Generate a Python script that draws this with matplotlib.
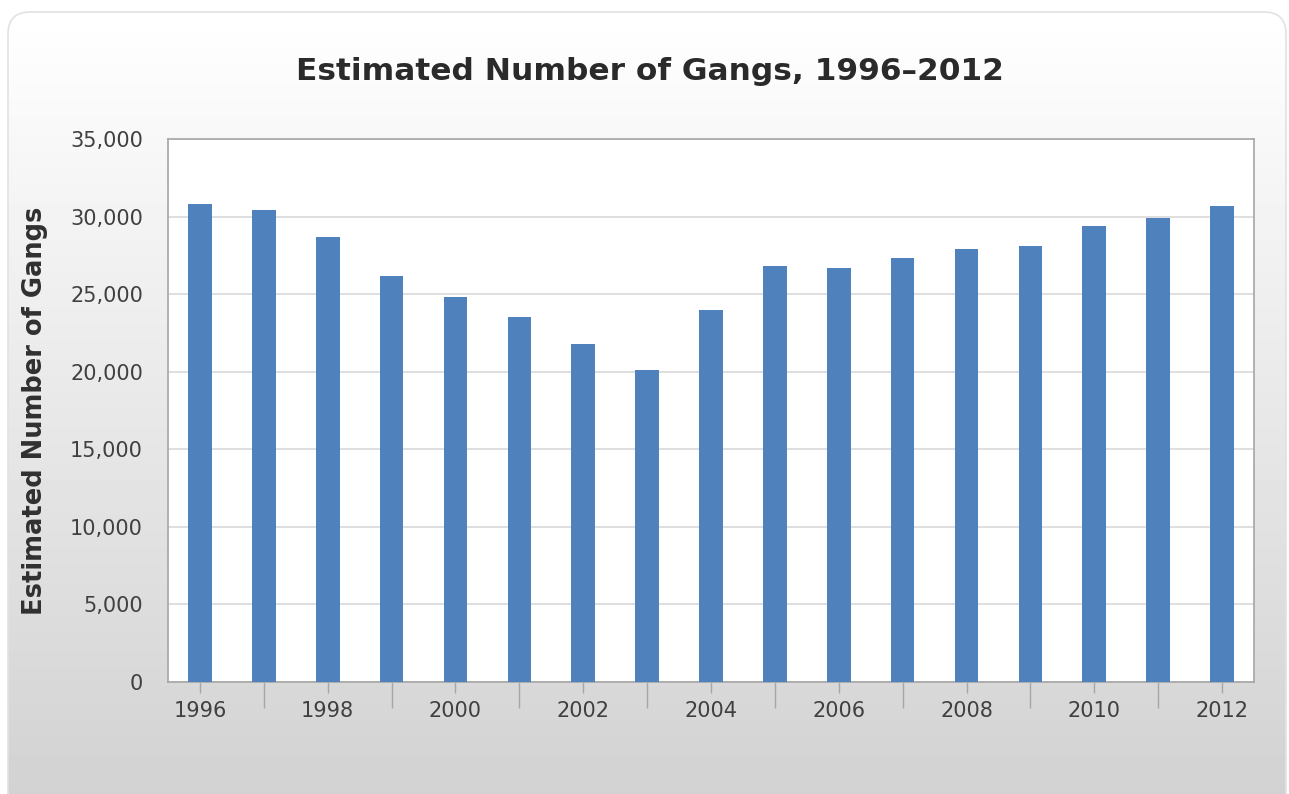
import numpy as np
import matplotlib.pyplot as plt
from matplotlib.patches import FancyBboxPatch
from matplotlib.ticker import FuncFormatter

years = list(range(1996, 2013))
gangs = [30800, 30400, 28700, 26200, 24800, 23500, 21800, 20100, 24000,
         26800, 26700, 27300, 27900, 28100, 29400, 29900, 30700]

W, H = 1289, 794
fig = plt.figure(figsize=(W / 100, H / 100), dpi=100)
fig.patch.set_facecolor('white')

# rounded panel with vertical gradient behind everything
bg = fig.add_axes([0, 0, 1, 1], zorder=0)
bg.set_xlim(0, W)
bg.set_ylim(0, H)
bg.axis('off')
grad = np.linspace(0.81, 1.0, 256).reshape(-1, 1)
img = bg.imshow(grad, cmap='gray', vmin=0, vmax=1, extent=[8, W, -60, H - 12],
                origin='lower', aspect='auto', interpolation='bilinear')
panel = FancyBboxPatch((8, -60), W - 11, H - 12 + 60,
                       boxstyle='round,pad=0,rounding_size=22',
                       facecolor='none', edgecolor='#e2e2e2', lw=1.2)
bg.add_patch(panel)
img.set_clip_path(panel)

ax = fig.add_axes([168 / W, 1 - 682 / H, (1254 - 168) / W, (682 - 139) / H], zorder=1)
ax.set_facecolor('white')
x = np.arange(len(years))
ax.bar(x, gangs, width=0.37, color='#4f81bd', zorder=3)

ax.set_xlim(-0.5, len(years) - 0.5)
ax.set_ylim(0, 35000)
ax.set_yticks(np.arange(0, 35001, 5000))
ax.yaxis.set_major_formatter(FuncFormatter(lambda v, p: f'{int(v):,}'))
ax.grid(axis='y', color='#d9d9d9', lw=1.2, zorder=0)

major = [i for i in x if years[i] % 2 == 0]
minor = [i for i in x if years[i] % 2 == 1]
ax.set_xticks(major)
ax.set_xticklabels([str(years[i]) for i in major])
ax.set_xticks(minor, minor=True)
ax.tick_params(axis='x', which='major', length=8, width=1, color='#a6a6a6',
               labelsize=15, labelcolor='#404040', pad=6)
ax.tick_params(axis='x', which='minor', length=19, width=1, color='#a6a6a6')
ax.tick_params(axis='y', length=0, labelsize=15, labelcolor='#404040', pad=18)

for s in ax.spines.values():
    s.set_color('#a6a6a6')
    s.set_linewidth(1.2)

ax.set_ylabel('Estimated Number of Gangs', fontsize=18.5, fontweight='bold',
              color='#303030', labelpad=16)
fig.text(650 / W, 1 - 72 / H, 'Estimated Number of Gangs, 1996\u20132012',
         ha='center', va='center', fontsize=22.5, fontweight='bold', color='#2a2a2a')

fig.savefig('out.png', dpi=100)
